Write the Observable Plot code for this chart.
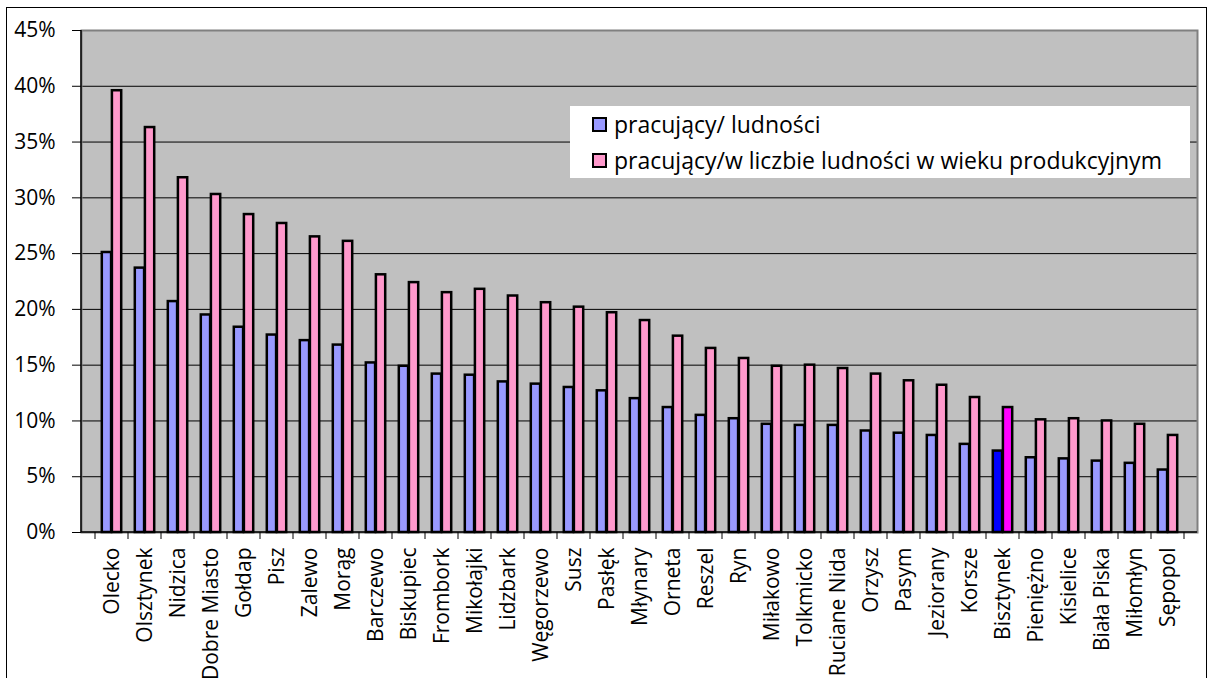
<!DOCTYPE html>
<html>
<head>
<meta charset="utf-8">
<script src="https://cdn.jsdelivr.net/npm/d3@7"></script>
<script src="https://cdn.jsdelivr.net/npm/@observablehq/plot@0.6"></script>
<style>
  html, body { margin: 0; padding: 0; background: #fff; width: 1208px; height: 678px; overflow: hidden; }
  #wrap { position: relative; width: 1208px; height: 678px; font-family: "Open Sans", sans-serif; }
  #border { position: absolute; left: 6px; top: 7px; width: 1201px; height: 720px; border: 1px solid #000; box-sizing: border-box; }
  #chart { position: absolute; left: 0; top: 0; }
  #legend { position: absolute; left: 570px; top: 106px; width: 620px; height: 72px; background: #fff;
            box-sizing: border-box; padding: 0 0 0 22px; font-size: 23px; color: #000; }
  #legend .row { display: flex; align-items: center; height: 36px; }
  #legend .sw { width: 11px; height: 11px; border: 2px solid #000; margin-right: 7px; }
</style>
</head>
<body>
<div id="wrap">
  <div id="border"></div>
  <div id="chart"></div>
  <div id="legend"></div>
</div>
<script>
// ---- data (percent) ----
const gminy = ["Olecko", "Olsztynek", "Nidzica", "Dobre Miasto", "Gołdap", "Pisz", "Zalewo", "Morąg",
  "Barczewo", "Biskupiec", "Frombork", "Mikołajki", "Lidzbark", "Węgorzewo", "Susz", "Pasłęk",
  "Młynary", "Orneta", "Reszel", "Ryn", "Miłakowo", "Tolkmicko", "Ruciane Nida", "Orzysz", "Pasym",
  "Jeziorany", "Korsze", "Bisztynek", "Pieniężno", "Kisielice", "Biała Piska", "Miłomłyn", "Sępopol"];
const pracujacyLudnosci = [25.1, 23.7, 20.7, 19.5, 18.4, 17.7, 17.2, 16.8, 15.2, 14.9, 14.2, 14.1,
  13.5, 13.3, 13.0, 12.7, 12.0, 11.2, 10.5, 10.2, 9.7, 9.6, 9.6, 9.1, 8.9, 8.7, 7.9, 7.3, 6.7, 6.6,
  6.4, 6.2, 5.6];
const pracujacyWiekProd = [39.6, 36.3, 31.8, 30.3, 28.5, 27.7, 26.5, 26.1, 23.1, 22.4, 21.5, 21.8,
  21.2, 20.6, 20.2, 19.7, 19.0, 17.6, 16.5, 15.6, 14.9, 15.0, 14.7, 14.2, 13.6, 13.2, 12.1, 11.2,
  10.1, 10.2, 10.0, 9.7, 8.7];
const seriesNames = ["pracujący/ ludności", "pracujący/w liczbie ludności w wieku produkcyjnym"];
const seriesColors = ["#9999FF", "#FF99CC"];
const highlightGmina = "Bisztynek";
const highlightColors = ["#0000FF", "#FF00FF"];
const yTicks = [0, 5, 10, 15, 20, 25, 30, 35, 40, 45];

const rows = gminy.map((g, i) => ({gmina: g, a: pracujacyLudnosci[i], b: pracujacyWiekProd[i]}));
const colorFor = (s) => (d) => d.gmina === highlightGmina ? highlightColors[s] : seriesColors[s];

// Excel-style axis lines and tick marks at category boundaries
function axisLines(index, scales, values, dims) {
  const x = scales.x;
  const step = typeof x.step === "function" ? x.step() : scales.scales.x.step;
  const left = dims.marginLeft, right = dims.width - dims.marginRight;
  const top = dims.marginTop, bottom = dims.height - dims.marginBottom;
  const g = d3.create("svg:g").attr("stroke", "#000");
  g.append("line").attr("x1", left).attr("x2", left).attr("y1", top).attr("y2", bottom).attr("stroke-width", 1.5);
  g.append("line").attr("x1", left).attr("x2", right).attr("y1", bottom).attr("y2", bottom).attr("stroke-width", 1.5);
  const x0 = x(gminy[0]);
  for (let i = 0; i <= gminy.length; i++) {
    const xx = x0 + i * step;
    g.append("line").attr("x1", xx).attr("x2", xx).attr("y1", bottom).attr("y2", bottom + 7).attr("stroke-width", 1);
  }
  return g.node();
}

const chart = Plot.plot({
  width: 1208,
  height: 678,
  marginLeft: 81,
  marginRight: 11,
  marginTop: 30,
  marginBottom: 146,
  style: {fontFamily: "Open Sans, sans-serif", fontSize: "20px", color: "#000", background: "transparent", overflow: "visible"},
  x: {domain: gminy, padding: 0, label: null},
  y: {domain: [0, 45], label: null},
  color: {type: "identity"},
  marks: [
    Plot.frame({fill: "#C0C0C0", stroke: null}),
    Plot.ruleY(yTicks.filter(t => t > 0 && t < 45), {stroke: "#000", strokeWidth: 1}),
    Plot.frame({stroke: "#808080", strokeWidth: 2}),
    Plot.barY(rows, {x: "gmina", y: "a", fill: colorFor(0), stroke: "#000", strokeWidth: 2.5, insetLeft: 6.8, insetRight: 16.9}),
    Plot.barY(rows, {x: "gmina", y: "b", fill: colorFor(1), stroke: "#000", strokeWidth: 2.5, insetLeft: 16.9, insetRight: 6.8}),
    Plot.axisY({ticks: yTicks, tickSize: 9, tickPadding: 17, tickFormat: d => d + "%", fontSize: 21, label: null}),
    Plot.axisX({tickSize: 0, tickRotate: -90, tickPadding: 15, fontSize: 21, label: null}),
    axisLines
  ]
});
document.getElementById("chart").appendChild(chart);

// legend
const legend = d3.select("#legend");
seriesNames.forEach((name, i) => {
  const row = legend.append("div").attr("class", "row");
  row.append("div").attr("class", "sw").style("background", seriesColors[i]);
  row.append("span").text(name);
});
</script>
</body>
</html>
